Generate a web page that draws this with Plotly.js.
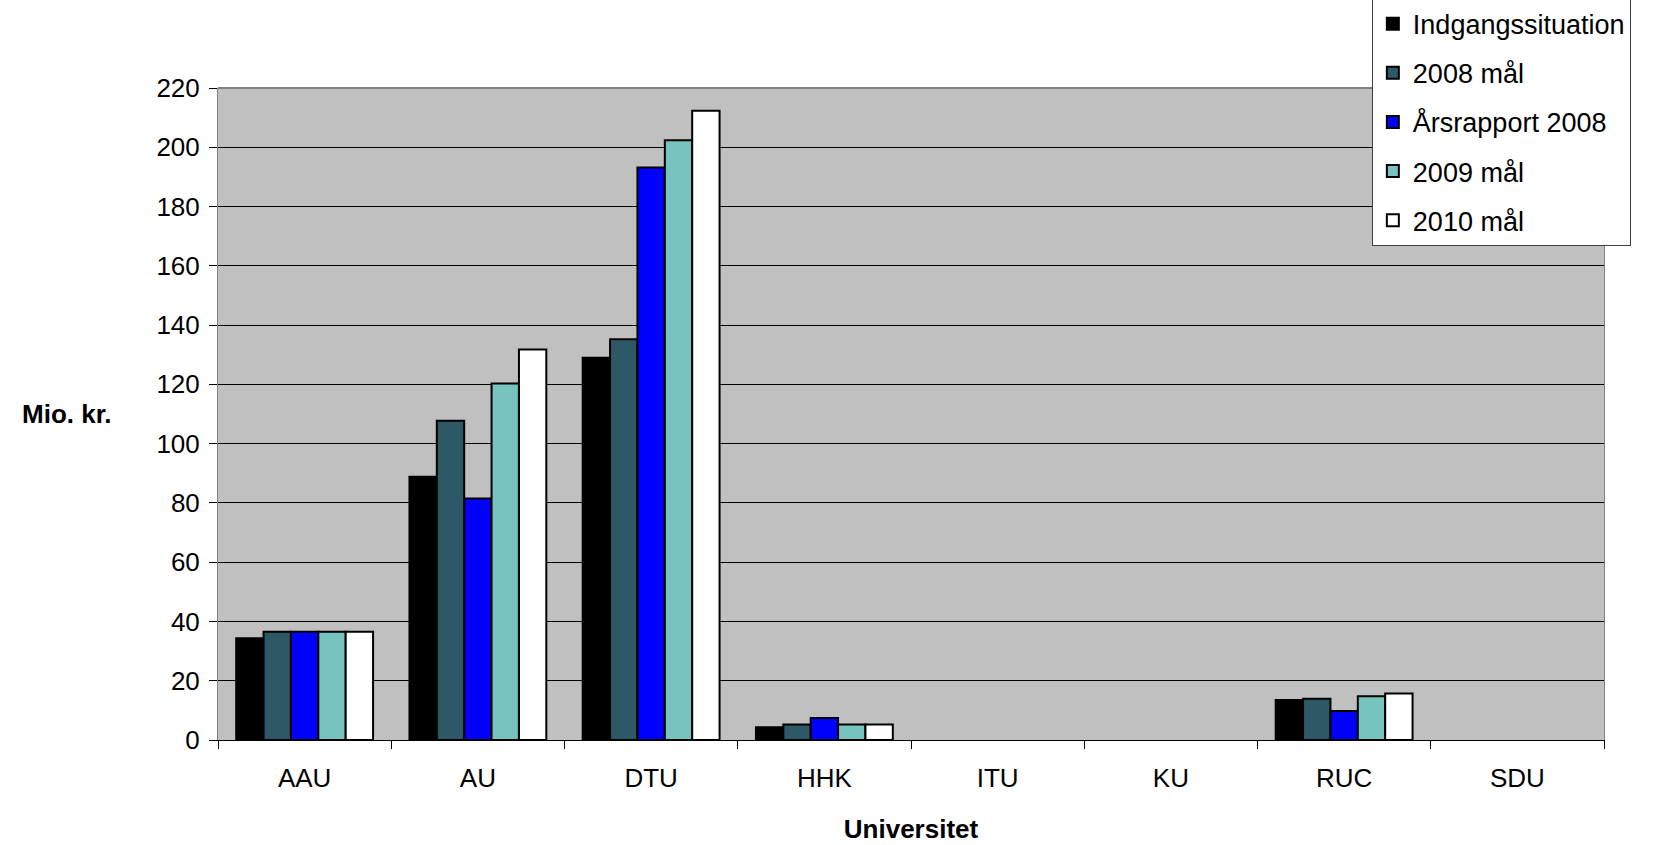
<!DOCTYPE html>
<html>
<head>
<meta charset="utf-8">
<script src="https://cdn.plot.ly/plotly-3.0.1.min.js"></script>
<style>html,body{margin:0;padding:0;background:#fff;}#chart{width:1666px;height:845px;}</style>
</head>
<body>
<div id="chart"></div>
<script>
const universities = ["AAU", "AU", "DTU", "HHK", "ITU", "KU", "RUC", "SDU"];
const seriesNames = ["Indgangssituation", "2008 mål", "Årsrapport 2008", "2009 mål", "2010 mål"];
const indgangssituation = [34.3, 88.8, 129.0, 4.3, null, null, 13.5, null];
const maal2008 = [36.5, 107.7, 135.2, 5.2, null, null, 13.9, null];
const aarsrapport2008 = [36.5, 81.5, 193.2, 7.4, null, null, 9.8, null];
const maal2009 = [36.5, 120.3, 202.4, 5.2, null, null, 14.8, null];
const maal2010 = [36.5, 131.8, 212.3, 5.2, null, null, 15.7, null];
const yTicks = [0, 20, 40, 60, 80, 100, 120, 140, 160, 180, 200, 220];

const seriesValues = [indgangssituation, maal2008, aarsrapport2008, maal2009, maal2010];
const colors = ["#000000", "#2D5866", "#0000FF", "#77C4BE", "#FFFFFF"];
const FONT = "Liberation Sans, Arial, sans-serif";

const traces = seriesValues.map((vals, i) => ({
  type: "bar",
  name: seriesNames[i],
  x: universities,
  y: vals,
  legendgroup: "g" + i,
  marker: {color: colors[i], line: {color: "#000000", width: 2}},
  hoverinfo: "x+y+name"
}));

const layout = {
  width: 1666, height: 845,
  margin: {l: 218, r: 62, t: 88, b: 105, autoexpand: false},
  paper_bgcolor: "#FFFFFF",
  plot_bgcolor: "#C0C0C0",
  font: {family: FONT, color: "#000000", size: 26},
  barmode: "group",
  bargap: 0.21,
  bargroupgap: 0,
  showlegend: true,
  legend: {
    x: 0.8325, y: 1.137, xanchor: "left", yanchor: "top",
    bgcolor: "#FFFFFF", bordercolor: "#404040", borderwidth: 1,
    font: {family: FONT, size: 27, color: "#000000"},
    tracegroupgap: 11,
    traceorder: "grouped",
    entrywidth: 283,
    entrywidthmode: "pixels",
    itemclick: false
  },
  xaxis: {
    type: "category",
    tickson: "boundaries",
    ticks: "outside", ticklen: 8, tickcolor: "#000000", tickwidth: 1,
    showline: true, linecolor: "#000000", linewidth: 1,
    showgrid: false, zeroline: false,
    tickfont: {family: FONT, size: 26, color: "#000000"},
    ticklabelstandoff: 15,
    title: {text: "<b>Universitet</b>", font: {family: FONT, size: 26, color: "#000000"}, standoff: 27}
  },
  yaxis: {
    range: [0, 220],
    tickvals: yTicks,
    ticktext: yTicks.map(String),
    ticks: "outside", ticklen: 8, tickcolor: "#000000", tickwidth: 1,
    showline: true, linecolor: "#808080", linewidth: 1, mirror: true,
    showgrid: true, gridcolor: "#000000", gridwidth: 1,
    zeroline: false,
    tickfont: {family: FONT, size: 26, color: "#000000"},
    ticklabelstandoff: 4
  },
  shapes: [
    {type: "line", xref: "paper", yref: "paper", x0: 0, x1: 1, y0: 1, y1: 1, line: {color: "#808080", width: 2}}
  ],
  annotations: [
    {text: "<b>Mio. kr.</b>", xref: "paper", yref: "paper", x: -0.075, y: 0.5, xanchor: "right", yanchor: "middle",
     showarrow: false, font: {family: FONT, size: 26, color: "#000000"}}
  ]
};

Plotly.newPlot("chart", traces, layout, {displayModeBar: false});
</script>
</body>
</html>
